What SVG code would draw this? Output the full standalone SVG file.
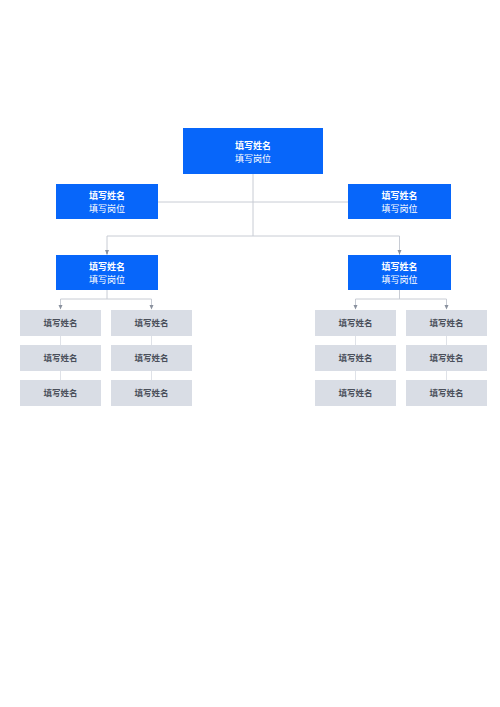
<svg xmlns="http://www.w3.org/2000/svg" width="500" height="707" viewBox="0 0 500 707">
<defs>
<style>
.blue{fill:#0766fa}
.gray{fill:#d9dde5}
.bt{font-family:"Noto Sans CJK SC","Noto Sans",sans-serif;font-size:9px;fill:#ffffff;text-anchor:middle}
.b{font-weight:bold}
.gt{font-family:"Noto Sans CJK SC","Noto Sans",sans-serif;font-size:8.5px;font-weight:bold;fill:#4a4f5a;text-anchor:middle}
.ln{stroke:#c8ccd4;stroke-width:1;fill:none}
.ln2{stroke:#dfe2e8;stroke-width:1;fill:none}
</style>
<marker id="ar" viewBox="0 0 6 5" refX="3" refY="5" markerWidth="5" markerHeight="4" orient="auto-start-reverse" markerUnits="userSpaceOnUse">
<path d="M0,0 L6,0 L3,5 Z" fill="#8a919e"/>
</marker>
</defs>
<rect width="500" height="707" fill="#ffffff"/>
<g id="connectors">
<path class="ln" d="M253,174 V236"/>
<path class="ln" d="M158,202 H348"/>
<path class="ln" d="M107,254 V236 H399.5 V254"/>
<path d="M107,250 V254.5" stroke="#8a919e" stroke-width="1"/>
<path d="M399.5,250 V254.5" stroke="#8a919e" stroke-width="1"/>
<path d="M105,250 L109,250 L107,254.5 Z" fill="#8a919e"/>
<path d="M397.5,250 L401.5,250 L399.5,254.5 Z" fill="#8a919e"/>
<path class="ln" d="M107,290 V299 M60.5,306 V299 H151.5 V306"/>
<path class="ln" d="M399.5,290 V299 M355.5,306 V299 H446.5 V306"/>
<path d="M58.5,305 L62.5,305 L60.5,309.5 Z M149.5,305 L153.5,305 L151.5,309.5 Z M353.5,305 L357.5,305 L355.5,309.5 Z M444.5,305 L448.5,305 L446.5,309.5 Z" fill="#8a919e"/>
<path class="ln2" d="M60.5,336 V345 M60.5,371 V380 M151.5,336 V345 M151.5,371 V380 M355.5,336 V345 M355.5,371 V380 M446.5,336 V345 M446.5,371 V380"/>
</g>
<g id="n-top"><rect class="blue" x="183" y="128" width="140" height="46"/><text class="bt b" x="253" y="149">填写姓名</text><text class="bt" x="253" y="162">填写岗位</text></g>
<g id="n-l1"><rect class="blue" x="56" y="184" width="102" height="35"/><text class="bt b" x="107" y="199">填写姓名</text><text class="bt" x="107" y="212">填写岗位</text></g>
<g id="n-r1"><rect class="blue" x="348" y="184" width="103" height="35"/><text class="bt b" x="399.5" y="199">填写姓名</text><text class="bt" x="399.5" y="212">填写岗位</text></g>
<g id="n-l2"><rect class="blue" x="56" y="255" width="102" height="35"/><text class="bt b" x="107" y="270">填写姓名</text><text class="bt" x="107" y="283">填写岗位</text></g>
<g id="n-r2"><rect class="blue" x="348" y="255" width="103" height="35"/><text class="bt b" x="399.5" y="270">填写姓名</text><text class="bt" x="399.5" y="283">填写岗位</text></g>
<g id="g-a1"><rect class="gray" x="20" y="310" width="81" height="26"/><text class="gt" x="60.5" y="326">填写姓名</text></g>
<g id="g-a2"><rect class="gray" x="20" y="345" width="81" height="26"/><text class="gt" x="60.5" y="361">填写姓名</text></g>
<g id="g-a3"><rect class="gray" x="20" y="380" width="81" height="26"/><text class="gt" x="60.5" y="396">填写姓名</text></g>
<g id="g-b1"><rect class="gray" x="111" y="310" width="81" height="26"/><text class="gt" x="151.5" y="326">填写姓名</text></g>
<g id="g-b2"><rect class="gray" x="111" y="345" width="81" height="26"/><text class="gt" x="151.5" y="361">填写姓名</text></g>
<g id="g-b3"><rect class="gray" x="111" y="380" width="81" height="26"/><text class="gt" x="151.5" y="396">填写姓名</text></g>
<g id="g-c1"><rect class="gray" x="315" y="310" width="81" height="26"/><text class="gt" x="355.5" y="326">填写姓名</text></g>
<g id="g-c2"><rect class="gray" x="315" y="345" width="81" height="26"/><text class="gt" x="355.5" y="361">填写姓名</text></g>
<g id="g-c3"><rect class="gray" x="315" y="380" width="81" height="26"/><text class="gt" x="355.5" y="396">填写姓名</text></g>
<g id="g-d1"><rect class="gray" x="406" y="310" width="81" height="26"/><text class="gt" x="446.5" y="326">填写姓名</text></g>
<g id="g-d2"><rect class="gray" x="406" y="345" width="81" height="26"/><text class="gt" x="446.5" y="361">填写姓名</text></g>
<g id="g-d3"><rect class="gray" x="406" y="380" width="81" height="26"/><text class="gt" x="446.5" y="396">填写姓名</text></g>
</svg>
